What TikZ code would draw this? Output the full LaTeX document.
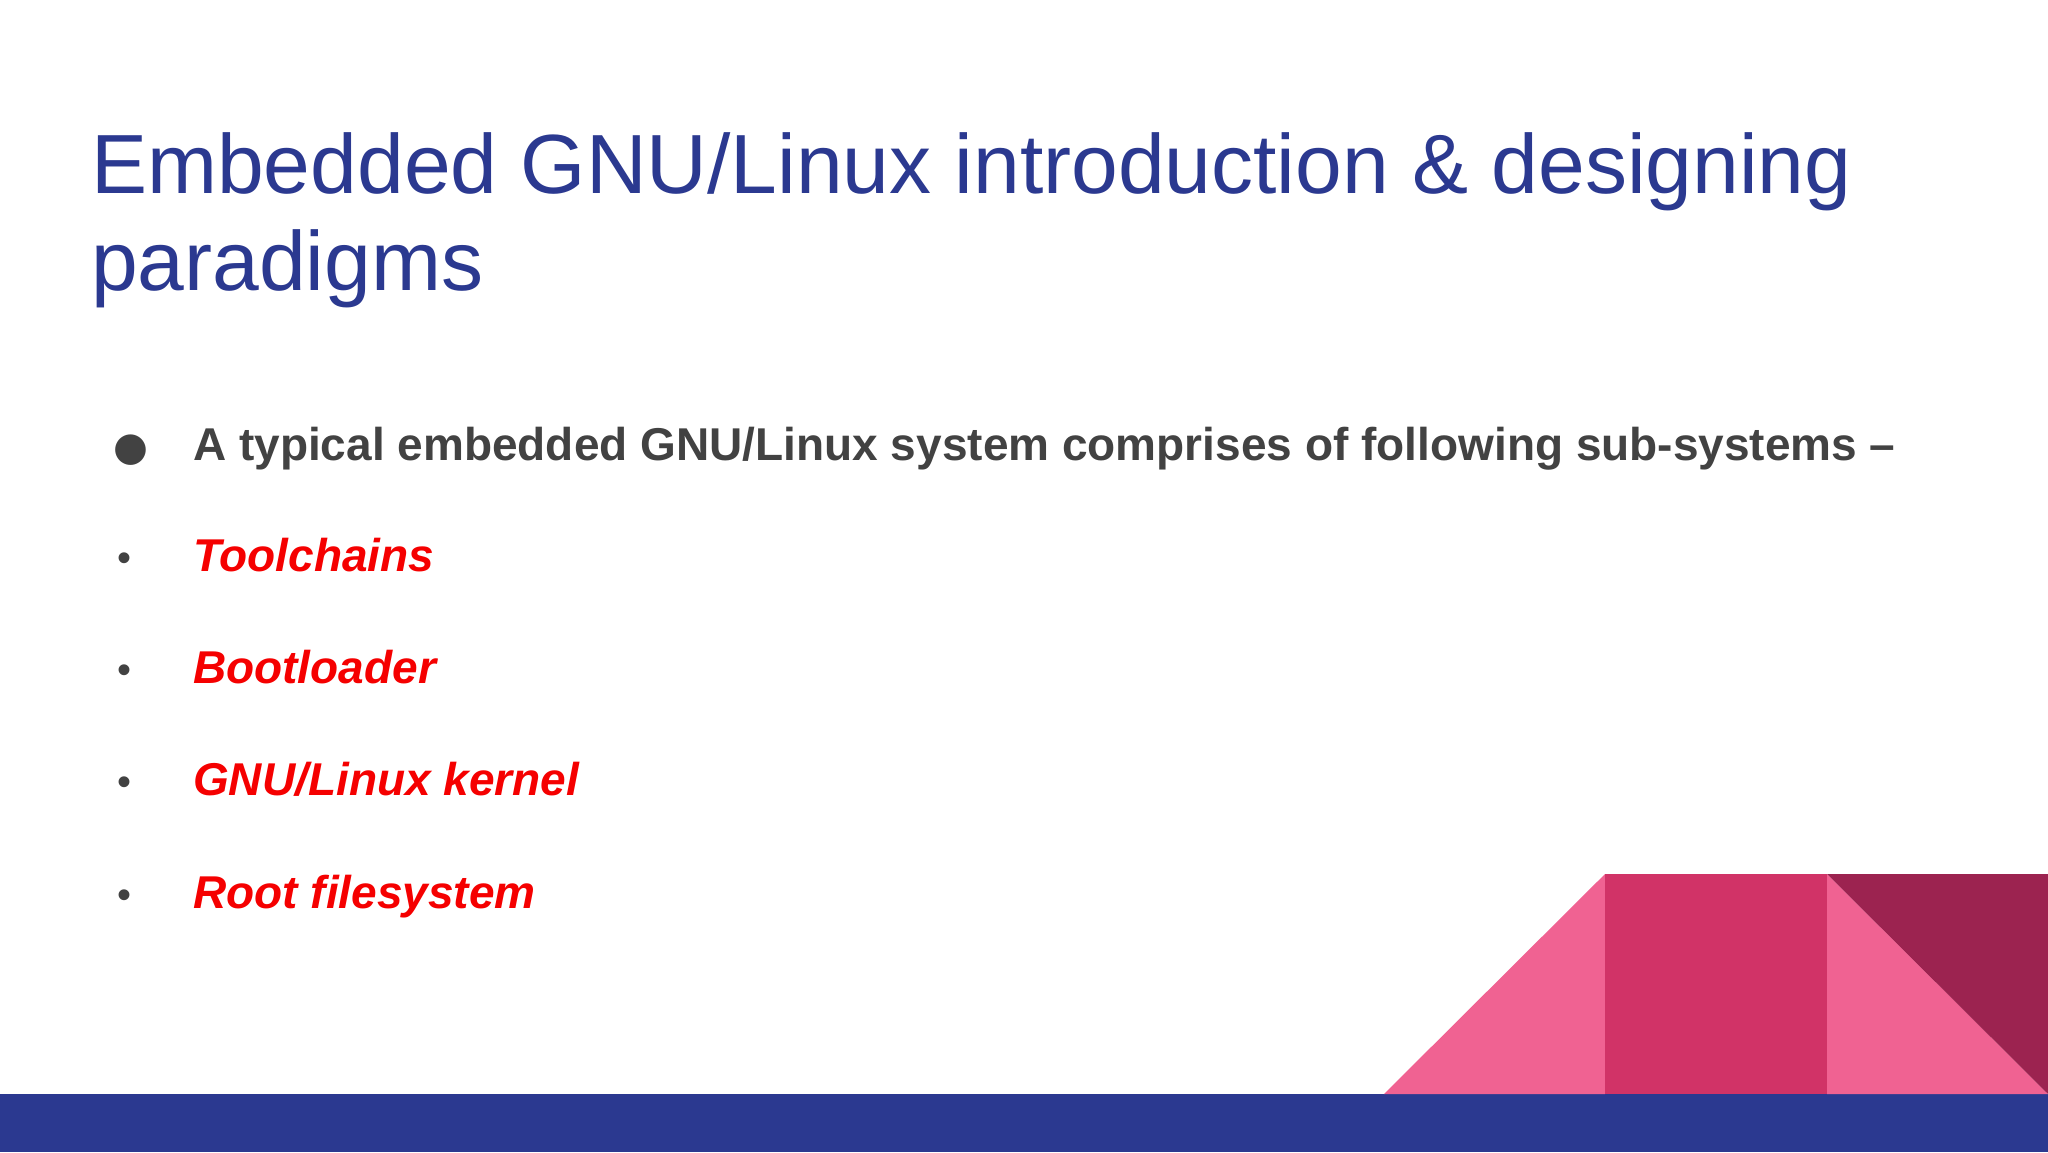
\documentclass[tikz,border=0pt]{standalone}
\usepackage{fontspec}
\setmainfont{Liberation Sans}
\newfontfamily\sym{DejaVu Sans}
\definecolor{navy}{RGB}{43,57,144}
\definecolor{lpink}{RGB}{240,98,146}
\definecolor{mpink}{RGB}{209,51,103}
\definecolor{dpink}{RGB}{156,35,80}
\definecolor{txtgray}{RGB}{66,66,66}
\definecolor{itemred}{RGB}{245,0,0}
\begin{document}
\begin{tikzpicture}[x=1pt,y=-1pt,
  title/.style={anchor=base west,inner sep=0,text=navy,font=\fontsize{84}{100}\selectfont},
  lead/.style={anchor=base west,inner sep=0,text=txtgray,font=\fontsize{46}{50}\selectfont\bfseries},
  item/.style={anchor=base west,inner sep=0,text=itemred,font=\fontsize{46}{50}\selectfont\bfseries\itshape},
  dot/.style={anchor=base,inner sep=0,text=txtgray,font=\fontsize{40}{40}\selectfont}]
\useasboundingbox (0,0) rectangle (2048,1152);
\fill[white] (0,0) rectangle (2048,1152);
\fill[navy] (0,1094) rectangle (2048,1152);
\fill[lpink] (1384,1094) -- (1605,874) -- (1605,1094) -- cycle;
\fill[mpink] (1605,874) rectangle (1827,1094);
\fill[lpink] (1827,874) -- (2048,1094) -- (1827,1094) -- cycle;
\fill[dpink] (1827,874) -- (2048,874) -- (2048,1094) -- cycle;
\node[title] (t1) at (91,193) {Embedded GNU/Linux introduction \& designing};
\node[title] (t2) at (91,290) {paradigms};
\node[dot] (b0) at (131,460) {\sym ●};
\node[lead] (l0) at (193,460) {A typical embedded GNU/Linux system comprises of following sub-systems –};
\node[dot] (b1) at (125,571) {•};
\node[item] (i1) at (193,571) {Toolchains};
\node[dot] (b2) at (125,683) {•};
\node[item] (i2) at (193,683) {Bootloader};
\node[dot] (b3) at (125,795) {•};
\node[item] (i3) at (193,795) {GNU/Linux kernel};
\node[dot] (b4) at (125,908) {•};
\node[item] (i4) at (193,908) {Root filesystem};
\end{tikzpicture}
\end{document}
